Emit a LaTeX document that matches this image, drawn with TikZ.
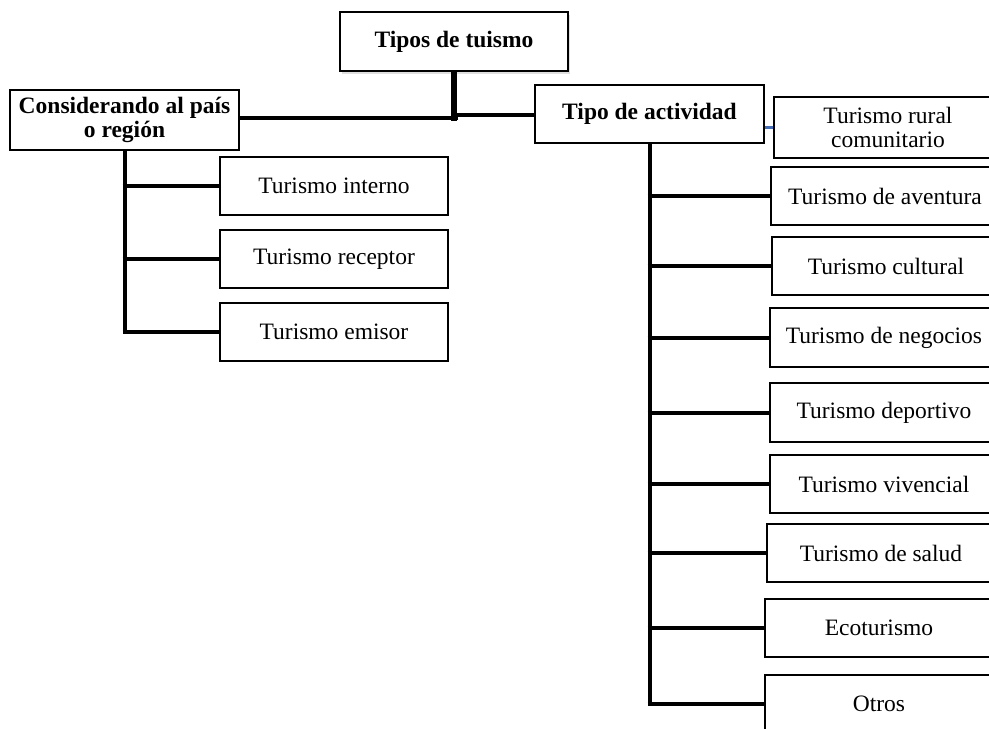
\documentclass[tikz,border=0pt]{standalone}
\usepackage{fontspec}
\setmainfont{Liberation Serif}
\usetikzlibrary{shadows}
\begin{document}
\begin{tikzpicture}[x=1pt,y=-1pt,
  box/.style={draw=black, line width=1.6pt, fill=white, inner sep=0pt, align=center,
    minimum width=228pt, minimum height=58pt, font=\fontsize{23.5}{24}\selectfont},
  bbox/.style={box, font=\fontsize{23.5}{23.5}\selectfont\bfseries},
  conn/.style={line width=4pt, line cap=butt},
  bconn/.style={line width=3pt, draw={rgb,255:red,68;green,110;blue,180}}]
\useasboundingbox (0,0) rectangle (989,729);
\clip (0,0) rectangle (989,729);
\fill[white] (0,0) rectangle (989,729);

\node[bbox, minimum height=59pt, drop shadow={opacity=0.25, shadow xshift=2pt, shadow yshift=-3pt}] (tipos) at (454,41.5) {Tipos de tuismo};
\node[bbox, minimum width=229pt, minimum height=60pt] (cons) at (124.5,120) {Considerando al país\\o región};
\node[bbox, minimum width=229pt] (act) at (649.5,114) {Tipo de actividad};

\node[box] (interno) at (334,186) {Turismo interno};
\node[box] (receptor) at (334,259) {Turismo receptor};
\node[box] (emisor) at (334,332) {Turismo emisor};

\node[box, minimum height=61pt] (rural) at (888,127.5) {Turismo rural\\comunitario};
\node[box] (aventura) at (885,196) {Turismo de aventura};
\node[box] (cultural) at (886,266) {Turismo cultural};
\node[box, minimum height=59pt] (negocios) at (884,337.5) {Turismo de negocios};
\node[box, minimum height=59pt] (deportivo) at (884,412.5) {Turismo deportivo};
\node[box] (vivencial) at (884,484) {Turismo vivencial};
\node[box] (salud) at (881,553) {Turismo de salud};
\node[box] (eco) at (879,628) {Ecoturismo};
\node[box] (otros) at (879,704) {Otros};

\coordinate (jl) at (458,118);
\coordinate (jr) at (453,114.5);
\coordinate (jb) at (455,120.5);

\draw[conn, line width=5.5pt] (tipos.south) -- (tipos.south |- jb);
\draw[conn, line width=4.5pt] (jl) -- (cons.east |- jl);
\draw[conn] (jr) -- (act.west |- jr);

\draw[conn] (cons.south) -- ([yshift=-2pt]cons.south |- emisor.west);
\foreach \n in {interno,receptor,emisor}
  \draw[conn] ([xshift=-2pt]cons.south |- \n.west) -- (\n.west);

\draw[bconn] (act.east |- rural.west) -- (rural.west);

\draw[conn] (act.south) -- ([yshift=-2pt]act.south |- otros.west);
\foreach \n in {aventura,cultural,negocios,deportivo,vivencial,salud,eco,otros}
  \draw[conn] ([xshift=-2pt]act.south |- \n.west) -- (\n.west);
\end{tikzpicture}
\end{document}
